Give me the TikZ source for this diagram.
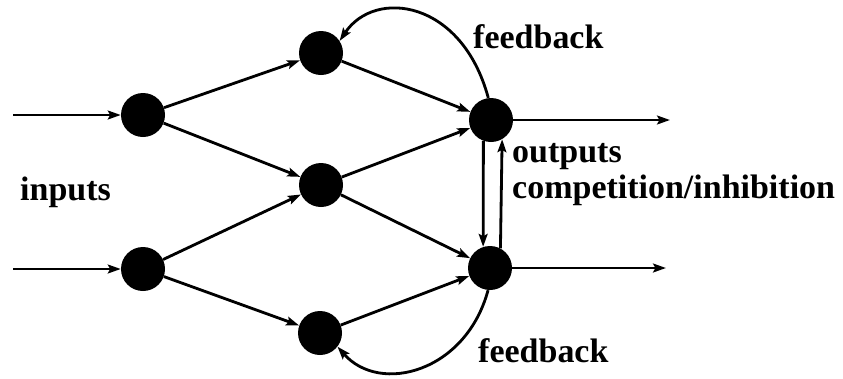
\documentclass[tikz,border=0pt]{standalone}
\usepackage{fontspec}
\setmainfont{Liberation Serif}
\usetikzlibrary{arrows.meta}
\begin{document}
\begin{tikzpicture}[x=0.03cm,y=-0.03cm,
  neuron/.style={circle,fill=black,draw=none,minimum size=1.32cm,inner sep=0pt},
  conn/.style={line width=2.4pt,-{Stealth[length=11pt,width=7.5pt,inset=2pt]}},
  lbl/.style={font=\fontsize{29}{32}\selectfont\bfseries,inner sep=0pt}]
\useasboundingbox (0,0) rectangle (843,378);
\node[neuron] (i1) at (143,115) {};
\node[neuron] (i2) at (143,269) {};
\node[neuron] (h1) at (321,53) {};
\node[neuron] (h2) at (321,185) {};
\node[neuron] (h3) at (320,333) {};
\node[neuron] (o1) at (491,120) {};
\node[neuron] (o2) at (490,268) {};
\coordinate (in1) at (13,115);
\coordinate (in2) at (13,269);
\coordinate (out1) at (670,120);
\coordinate (out2) at (666,268);
\draw[conn] (in1) -- (i1);
\draw[conn] (in2) -- (i2);
\draw[conn] (o1) -- (out1);
\draw[conn] (o2) -- (out2);
\draw[conn] (i1) -- (h1);
\draw[conn] (i1) -- (h2);
\draw[conn] (i2) -- (h2);
\draw[conn] (i2) -- (h3);
\draw[conn] (h1) -- (o1);
\draw[conn] (h2) -- (o1);
\draw[conn] (h2) -- (o2);
\draw[conn] (h3) -- (o2);
\draw[conn] (o1.250) -- (o2.108);
\draw[conn] (o2.62) -- (o1.300);
\draw[conn] (o1.97) .. controls (462,0) and (375,-12) .. (h1.33);
\draw[conn] (o2.265) .. controls (466,372) and (380,395) .. (h3.-38);
\node[lbl,anchor=base west] (fb1) at (473,48) {feedback};
\node[lbl,anchor=base west] (fb2) at (478,362) {feedback};
\node[lbl,anchor=base west] (outl) at (512,162) {outputs};
\node[lbl,anchor=base west] (comp) at (512,198) {competition/inhibition};
\node[lbl,anchor=base west] (inl) at (20,200) {inputs};
\end{tikzpicture}
\end{document}
